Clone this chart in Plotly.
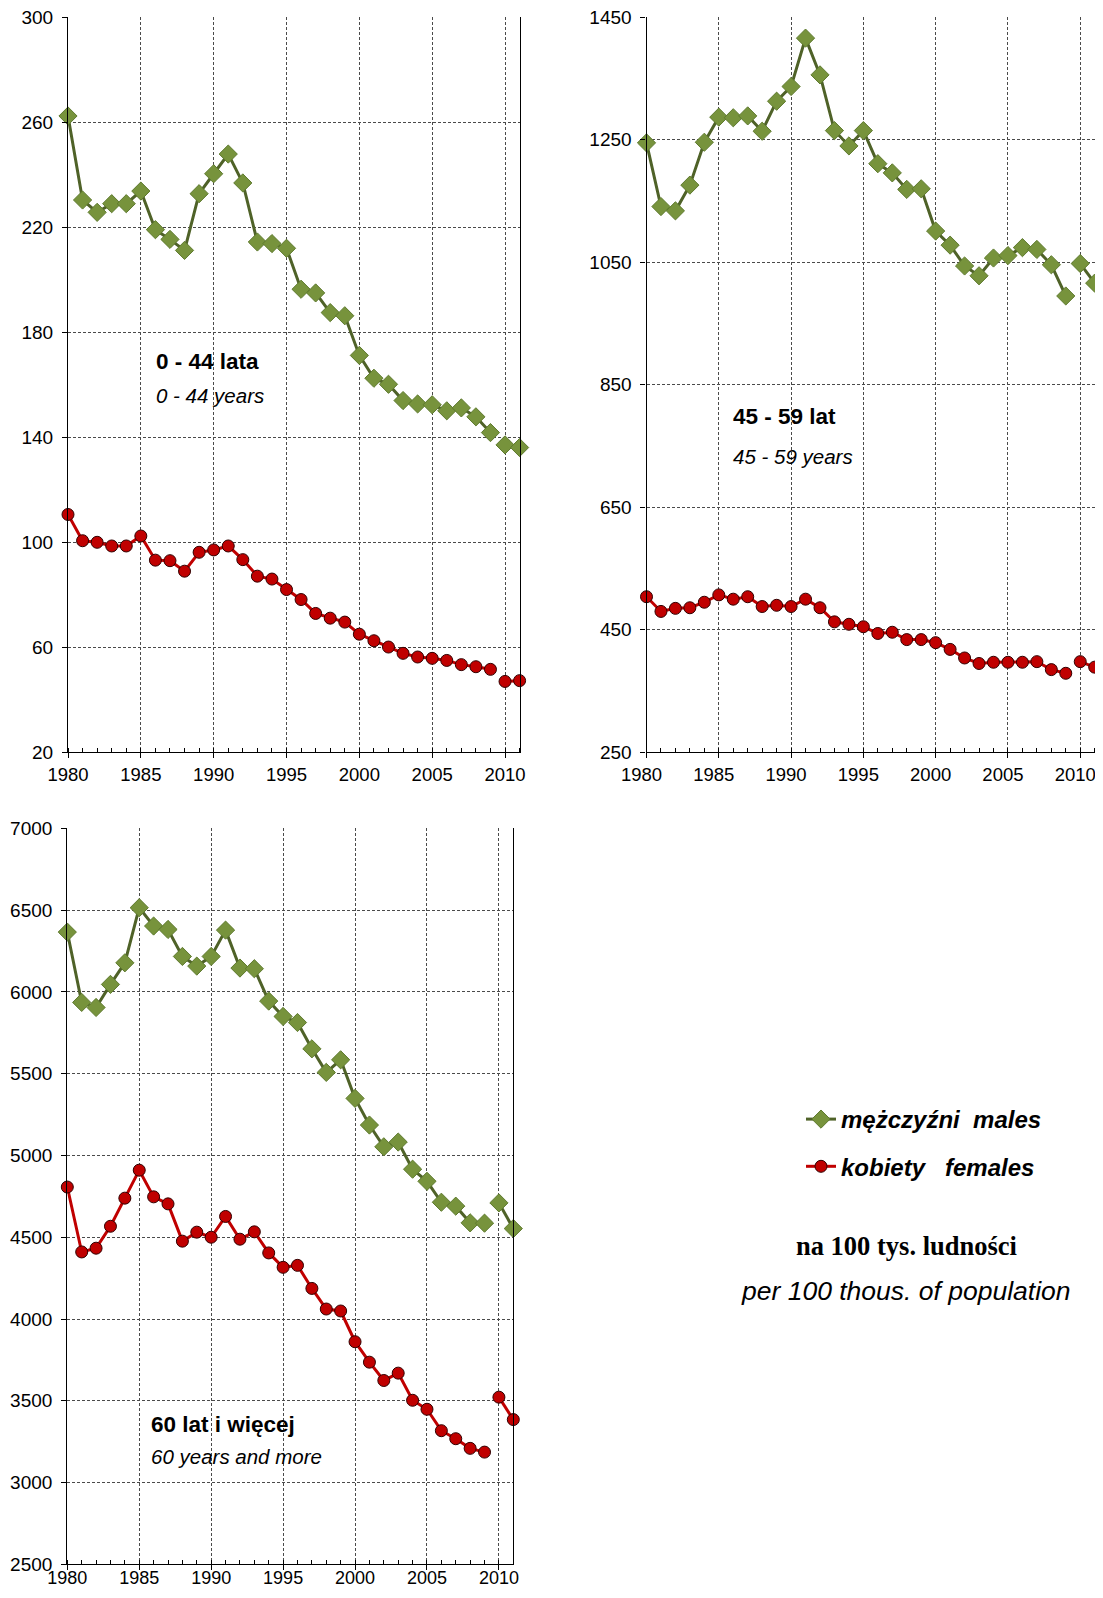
"""
Death rates per 100 thousand population by age group, males vs females, 1980-2011.
"""

import plotly.graph_objects as go

# data
years = list(range(1980, 2012))
break_year = 2010  # series are interrupted between 2009 and 2010

males_0_44 = [262.4, 230.4, 225.7, 229.0, 229.0, 233.8, 219.1, 215.4, 211.2, 232.8,
              240.4, 247.9, 236.9, 214.4, 213.8, 212.0, 196.4, 195.0, 187.5, 186.3,
              171.2, 162.5, 160.2, 154.0, 152.7, 152.4, 150.1, 151.2, 147.8, 141.8,
              137.1, 136.1]
females_0_44 = [110.6, 100.6, 100.0, 98.6, 98.6, 102.4, 93.2, 93.0, 89.0, 96.2,
                97.1, 98.6, 93.4, 87.1, 86.0, 82.0, 78.2, 72.9, 71.1, 69.6,
                65.0, 62.5, 60.1, 57.7, 56.3, 55.8, 55.0, 53.4, 52.6, 51.6,
                47.0, 47.3]
males_45_59 = [1245, 1141, 1134, 1176, 1246, 1287, 1286, 1289, 1264, 1313,
               1337, 1416, 1356, 1265, 1240, 1265, 1211, 1196, 1169, 1170,
               1101, 1078, 1044, 1028, 1057, 1061, 1074, 1071, 1046, 995,
               1048, 1016]
females_45_59 = [504, 480, 485, 486, 495, 507, 500, 504, 488, 490,
                 488, 500, 486, 463, 459, 455, 444, 446, 434, 434,
                 429, 418, 404, 395, 397, 397, 397, 398, 385, 379,
                 398, 389]
males_60 = [6366, 5936, 5905, 6046, 6178, 6515, 6403, 6382, 6217, 6158,
            6217, 6378, 6146, 6142, 5944, 5850, 5813, 5652, 5508, 5585,
            5349, 5186, 5053, 5082, 4916, 4842, 4714, 4690, 4588, 4586,
            4710, 4553]
females_60 = [4807, 4410, 4433, 4567, 4739, 4910, 4747, 4704, 4476, 4531,
              4500, 4627, 4488, 4533, 4404, 4316, 4328, 4187, 4061, 4049,
              3861, 3736, 3624, 3669, 3503, 3448, 3317, 3268, 3209, 3186,
              3522, 3385]

panel_titles = ['0 - 44 lata', '45 - 59 lat', '60 lat i więcej']
panel_subtitles = ['0 - 44 years', '45 - 59 years', '60 years and more']
y_ranges = [(20, 300, 40), (250, 1450, 200), (2500, 7000, 500)]

legend_males = 'mężczyźni\u00a0\u00a0males'
legend_females = 'kobiety\u00a0\u00a0\u00a0females'
unit_pl = 'na 100 tys. ludności'
unit_en = 'per 100 thous. of population'

# style
OFF = 8                  # page body margin
W, H = 1103 - 2 * OFF, 1598 - 2 * OFF
green_line = '#4F6228'
green_fill = '#77933C'
red = '#C00000'
grid = '#4a4a4a'
sans = 'Liberation Sans, Arial, sans-serif'


def px(x):
    return (x - OFF) / W


def py(y):
    return (H - (y - OFF)) / H


# panel boxes in page pixels: left, right, top, bottom
boxes = [(68, 519.6, 17.3, 752.3),
         (646.5, 1094.7, 17.3, 752.3),
         (67.3, 513.3, 828.4, 1564.3)]
label_pos = [(154, 361, 395), (731, 416, 456), (149, 1424, 1456)]
# small nudges so edge labels stay inside the page
xlabel_shift = [0, -5, 0]
xlabel_standoff = [0, 0, -8]
xlabel_size = [18.5, 18.5, 18]

series = [(males_0_44, females_0_44), (males_45_59, females_45_59), (males_60, females_60)]

fig = go.Figure()
cut = years.index(break_year)

for i, (males, females) in enumerate(series):
    xa = 'x' if i == 0 else f'x{i + 1}'
    ya = 'y' if i == 0 else f'y{i + 1}'
    for seg in (slice(0, cut), slice(cut, None)):
        first = (i == 0 and seg.start == 0)
        fig.add_trace(go.Scatter(
            x=years[seg], y=males[seg], xaxis=xa, yaxis=ya,
            mode='lines+markers', cliponaxis=False,
            line=dict(color=green_line, width=3),
            marker=dict(symbol='diamond', size=14, color=green_fill,
                        line=dict(color='#5E7A2E', width=1)),
            name=legend_males, legendgroup='m', showlegend=first,
        ))
        fig.add_trace(go.Scatter(
            x=years[seg], y=females[seg], xaxis=xa, yaxis=ya,
            mode='lines+markers', cliponaxis=False,
            line=dict(color=red, width=3),
            marker=dict(symbol='circle', size=12, color=red,
                        line=dict(color='#300000', width=1)),
            name=legend_females, legendgroup='f', showlegend=first,
        ))

layout = {}
for i, (l, r, t, b) in enumerate(boxes):
    sfx = '' if i == 0 else str(i + 1)
    lo, hi, step = y_ranges[i]
    layout['xaxis' + sfx] = dict(
        domain=[px(l), px(r)], anchor='y' + sfx, range=[1980, 2011],
        tick0=1980, dtick=5, ticks='outside', ticklen=5, tickcolor='black',
        showline=True, linecolor='black', linewidth=1.2,
        showgrid=True, gridcolor=grid, griddash='3px,2px', gridwidth=1,
        minor=dict(dtick=1, tick0=1980, ticks='inside', ticklen=4,
                   tickcolor='black', showgrid=False),
        tickfont=dict(family=sans, size=xlabel_size[i], color='black'),
        ticklabeloverflow='allow',
        ticklabelshift=xlabel_shift[i], ticklabelstandoff=xlabel_standoff[i],
        zeroline=False, fixedrange=True, automargin=False,
    )
    layout['yaxis' + sfx] = dict(
        domain=[py(b), py(t)], anchor='x' + sfx, range=[lo, hi],
        tick0=lo, dtick=step, ticks='outside', ticklen=5, tickcolor='black',
        showline=True, linecolor='black', linewidth=1.2, mirror=True,
        showgrid=True, gridcolor=grid, griddash='3px,2px', gridwidth=1,
        tickfont=dict(family=sans, size=19, color='black'),
        ticklabelstandoff=5, ticklabeloverflow='allow',
        zeroline=False, fixedrange=True, automargin=False,
    )

annotations = []
for (x, y1, y2), title, sub in zip(label_pos, panel_titles, panel_subtitles):
    annotations.append(dict(
        x=px(x), y=py(y1), xref='paper', yref='paper',
        xanchor='left', yanchor='middle', showarrow=False,
        text=f'<b>{title}</b>', font=dict(family=sans, size=22.5, color='black'),
    ))
    annotations.append(dict(
        x=px(x), y=py(y2), xref='paper', yref='paper',
        xanchor='left', yanchor='middle', showarrow=False,
        text=f'<i>{sub}</i>', font=dict(family=sans, size=20.5, color='black'),
    ))

annotations.append(dict(
    x=px(906), y=py(1246), xref='paper', yref='paper',
    xanchor='center', yanchor='middle', showarrow=False,
    text=f'<b>{unit_pl}</b>',
    font=dict(family='Liberation Serif, Times New Roman, serif', size=26.5, color='black'),
))
annotations.append(dict(
    x=px(906), y=py(1291), xref='paper', yref='paper',
    xanchor='center', yanchor='middle', showarrow=False,
    text=f'<i>{unit_en}</i>', font=dict(family=sans, size=26.5, color='black'),
))

fig.update_layout(
    **layout,
    width=W, height=H,
    margin=dict(l=0, r=0, t=0, b=0, autoexpand=False),
    paper_bgcolor='white', plot_bgcolor='white',
    showlegend=True,
    legend=dict(
        x=px(801), y=py(1097), xanchor='left', yanchor='top',
        font=dict(family=sans, size=24, color='black', weight='bold', style='italic'),
        tracegroupgap=13, bgcolor='rgba(0,0,0,0)',
    ),
    annotations=annotations,
)

fig.write_html('out.html')
